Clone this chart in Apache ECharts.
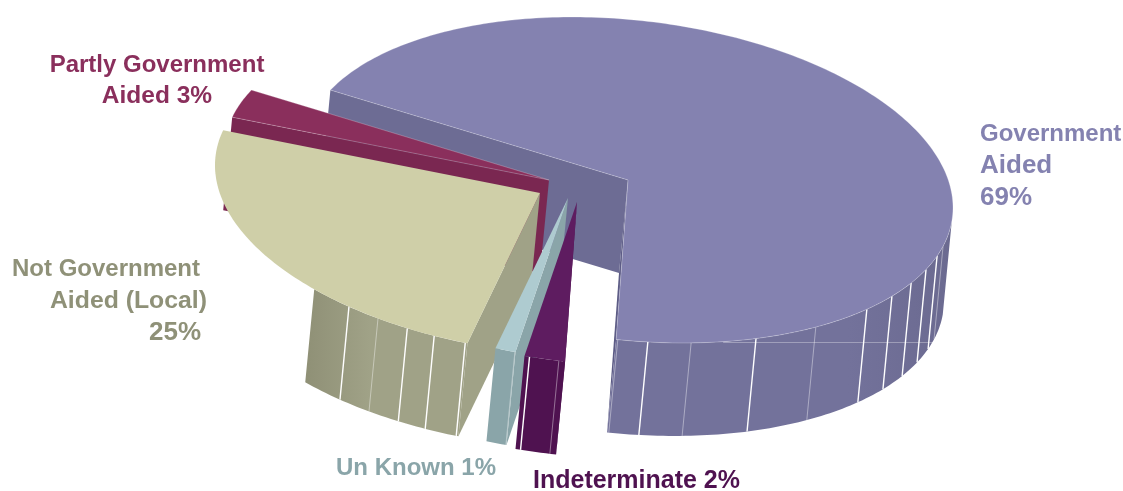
<!DOCTYPE html>
<html>
<head>
<meta charset="utf-8">
<style>html,body{margin:0;padding:0;background:#fff}#chart{width:1123px;height:491px}</style>
<script src="https://cdn.jsdelivr.net/npm/echarts@6/dist/echarts.min.js"></script>
</head>
<body>
<div id="chart"></div>
<script>
// Funding shares, in order round the pie (clockwise from the back left).
const categories = ['Government Aided', 'Indeterminate', 'Un Known', 'Not Government Aided (Local)', 'Partly Government Aided'];
const shares = [69, 2, 1, 25, 3];

const topColors  = ['#8482b0', '#5e1c60', '#aecbd0', '#cfcfa8', '#8a2f5c'];
const edgeColors = ['#6d6c94', '#4f1250', '#8aa5a9', '#a0a287', '#7a2751'];
const rimColors  = [['#73729b', '#6b6a90'], ['#4f1250', '#4f1250'], ['#8aa5a9', '#8aa5a9'], ['#8f9076', '#a0a287'], null];
const textColors = ['#8482b0', '#4f1250', '#8aa5a9', '#8f9178', '#8a2f5c'];

// Back-to-front painting order of the slices.
const paintOrder = [0, 4, 3, 2, 1];

// Pie apex of each exploded slice, in pixels.
const apexes = [[628, 180], [577, 202], [568, 198], [540, 193], [549, 180]];
// Oblique projection of the unit circle, and the extrusion of the pie.
const projXX = 325, projYX = 27.7, projYY = 160.6;
const depth = [-9, 93];
const startAngle = 203.7;

// Visible stretch of the outer wall for the two largest slices, in degrees along the rim.
const rimSpans = [[365, 452.1], null, null, [102.9, 134], null];
// Seams between wall facets: [angle, heavy?]
const seams = [
  [[374.2, 0], [378, 1], [383.5, 1], [389.4, 1], [395.7, 1], [402.7, 1], [414.7, 0], [426.8, 1], [438.8, 0], [446.5, 1], [451.8, 0]],
  [[93.2, 0], [98.4, 1]],
  [[99.4, 0]],
  [[103.3, 1], [109, 1], [114.1, 1], [119.9, 0], [126, 1]],
  []
];

// Text lines as set beside each slice: [slice index, text, x, y, alignment, font size]
const labelLines = [
  [0, 'Government', 980, 134, 'left', 24],
  [0, 'Aided', 980, 166, 'left', 26],
  [0, '69%', 980, 198, 'left', 26],
  [4, 'Partly Government', 157, 65, 'center', 24],
  [4, 'Aided 3%', 157, 96, 'center', 24.5],
  [3, 'Not Government', 200, 269, 'right', 24],
  [3, 'Aided (Local)', 207, 301, 'right', 24.8],
  [3, '25%', 201, 333, 'right', 26],
  [2, 'Un Known 1%', 336, 468, 'left', 24],
  [1, 'Indeterminate 2%', 533, 481, 'left', 25]
];

const total = shares.reduce((a, b) => a + b, 0);
let running = 0;
const sliceRows = shares.map((s, i) => {
  const from = startAngle + running / total * 360;
  running += s;
  return [s, from, startAngle + running / total * 360, i];
});
const paintedRows = paintOrder.map(i => sliceRows[i]);

function rimPoint(apex, deg, drop) {
  const r = deg * Math.PI / 180, c = Math.cos(r), s = Math.sin(r);
  const d = drop ? depth : [0, 0];
  return [apex[0] + projXX * c + d[0], apex[1] + projYX * c + projYY * s + d[1]];
}
function arc(apex, a, b, drop) {
  const pts = [], n = Math.max(2, Math.ceil(Math.abs(b - a)));
  for (let k = 0; k <= n; k++) pts.push(rimPoint(apex, a + (b - a) * k / n, drop));
  return pts;
}
function edgeWall(apex, deg, fill) {
  const rim = rimPoint(apex, deg), low = rimPoint(apex, deg, true);
  return {
    type: 'polygon', silent: true,
    shape: { points: [apex, rim, low, [apex[0] + depth[0], apex[1] + depth[1]]] },
    style: { fill }
  };
}

function renderSlice(params, api) {
  const from = api.value(1), to = api.value(2), i = api.value(3);
  const apex = apexes[i];
  const children = [edgeWall(apex, from, edgeColors[i])];
  if (i === 0) children.push(edgeWall(apex, to, '#5c5b85'));

  const span = rimSpans[i] || (rimColors[i] ? [from, to] : null);
  if (span) {
    const wall = arc(apex, span[0], span[1]).concat(arc(apex, span[1], span[0], true));
    children.push({
      type: 'polygon', silent: true, shape: { points: wall },
      style: {
        fill: new echarts.graphic.LinearGradient(i === 0 ? 1 : 0, 0, i === 0 ? 0 : 1, 0, [
          { offset: 0, color: rimColors[i][i === 0 ? 1 : 0] },
          { offset: i === 0 ? 0.3 : 0.4, color: rimColors[i][i === 0 ? 0 : 1] },
          { offset: 1, color: rimColors[i][i === 0 ? 0 : 1] }
        ])
      }
    });
  }
  seams[i].forEach(([deg, heavy]) => {
    const a = rimPoint(apex, deg), b = rimPoint(apex, deg, true);
    children.push({
      type: 'line', silent: true,
      shape: { x1: a[0], y1: a[1], x2: b[0], y2: b[1] },
      style: { stroke: heavy ? '#ffffff' : 'rgba(255,255,255,0.45)', lineWidth: heavy ? 1.4 : 0.9 }
    });
  });
  if (i === 0) {
    // Faint level line that runs across the big slice's wall.
    const left = rimPoint(apex, 430), right = rimPoint(apex, 372, true);
    children.push({
      type: 'line', silent: true,
      shape: { x1: left[0] - 16, y1: 342.5, x2: right[0] + 1, y2: 342.5 },
      style: { stroke: 'rgba(255,255,255,0.32)', lineWidth: 1 }
    });
  }
  const outlined = i === 0 || i === 4;
  children.push({
    type: 'polygon', silent: true,
    shape: { points: [apex].concat(arc(apex, from, to)) },
    style: {
      fill: topColors[i],
      stroke: outlined ? 'rgba(255,255,255,0.3)' : 'none',
      lineWidth: outlined ? 0.8 : 0
    }
  });
  return { type: 'group', children };
}

function renderLabel(params, api) {
  const line = labelLines[params.dataIndex];
  return {
    type: 'text', silent: true,
    x: line[2], y: line[3],
    style: {
      text: line[1],
      fill: textColors[line[0]],
      font: 'bold ' + line[5] + 'px "Liberation Sans", Arial, sans-serif',
      align: line[4], verticalAlign: 'middle'
    }
  };
}

const chart = echarts.init(document.getElementById('chart'));
chart.setOption({
  animation: false,
  backgroundColor: '#ffffff',
  series: [
    {
      type: 'custom', coordinateSystem: 'none', clip: false, silent: true,
      dimensions: ['share', 'from', 'to', 'slice'],
      renderItem: renderSlice,
      data: paintedRows
    },
    {
      type: 'custom', coordinateSystem: 'none', clip: false, silent: true, z: 5,
      renderItem: renderLabel,
      data: labelLines.map((l, i) => [i])
    }
  ]
});
</script>
</body>
</html>
